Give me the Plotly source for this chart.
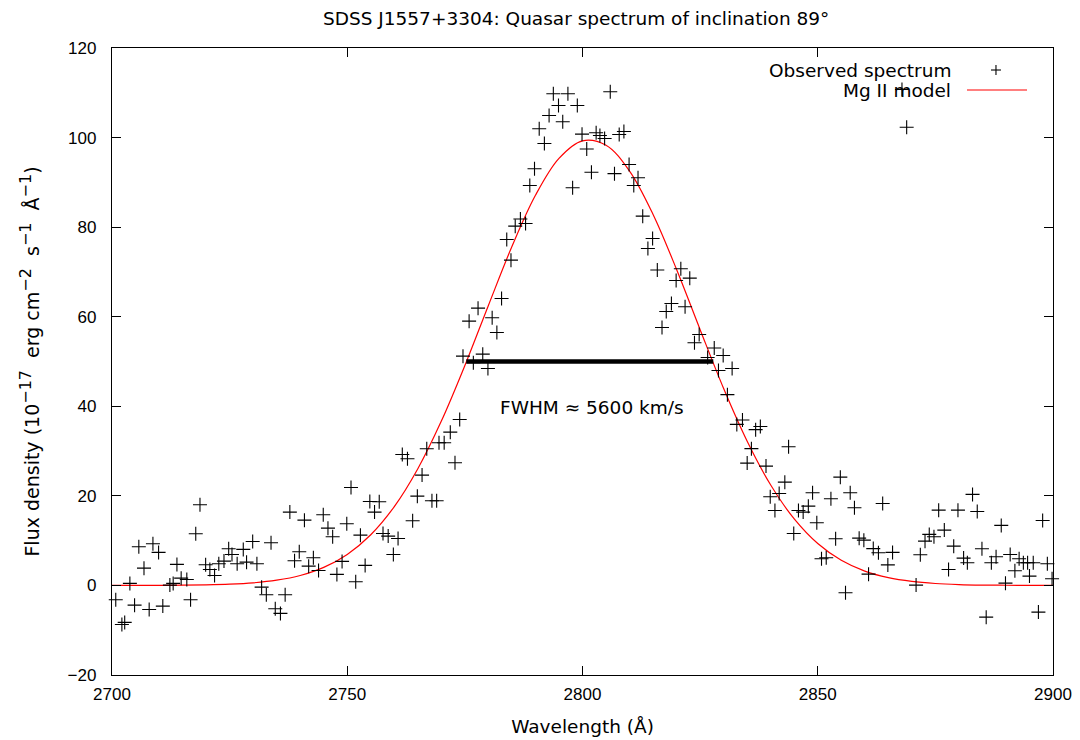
import plotly.graph_objects as go

# observed spectrum (wavelength in Angstrom, flux in 1e-17 erg/cm2/s/A)
wavelength = [
    2700.8, 2702.1, 2702.7, 2703.8, 2704.8, 2705.7, 2706.8, 2707.9, 2708.7, 2709.9,
    2710.8, 2712.3, 2713.0, 2713.8, 2714.7, 2715.9, 2716.7, 2717.8, 2718.7, 2719.9,
    2720.8, 2721.8, 2722.7, 2723.8, 2724.8, 2725.5, 2726.6, 2727.9, 2728.6, 2729.9,
    2730.8, 2731.8, 2732.8, 2733.8, 2734.7, 2735.8, 2736.8, 2737.8, 2738.8, 2739.8,
    2740.9, 2741.8, 2742.8, 2743.9, 2744.9, 2745.9, 2746.9, 2747.8, 2748.9, 2749.9,
    2750.8, 2751.8, 2752.8, 2753.8, 2754.8, 2755.8, 2756.8, 2757.6, 2758.7, 2759.8,
    2760.8, 2761.7, 2762.8, 2763.9, 2764.9, 2765.9, 2766.9, 2768.0, 2769.0, 2769.5,
    2770.6, 2771.9, 2772.9, 2773.9, 2774.6, 2775.9, 2776.8, 2777.8, 2778.8, 2779.9,
    2780.8, 2781.8, 2782.8, 2783.9, 2784.8, 2785.7, 2786.8, 2787.9, 2788.8, 2789.8,
    2790.8, 2791.9, 2792.9, 2793.8, 2794.9, 2795.8, 2796.9, 2797.9, 2798.9, 2799.9,
    2800.9, 2801.9, 2802.9, 2803.7, 2804.7, 2805.9, 2806.8, 2807.8, 2808.8, 2809.9,
    2810.9, 2811.8, 2812.8, 2813.9, 2814.9, 2815.9, 2816.9, 2817.8, 2818.9, 2819.9,
    2820.9, 2821.8, 2822.8, 2823.8, 2824.8, 2826.6, 2828.0, 2828.9, 2829.9, 2830.8,
    2831.8, 2832.8, 2834.0, 2835.0, 2835.9, 2836.8, 2837.8, 2839.0, 2839.9, 2840.9,
    2841.8, 2843.0, 2843.8, 2844.9, 2845.9, 2846.9, 2848.0, 2848.9, 2849.8, 2850.8,
    2851.8, 2852.8, 2853.8, 2854.8, 2855.9, 2856.9, 2857.8, 2858.8, 2859.8, 2860.8,
    2861.8, 2862.9, 2863.8, 2864.9, 2865.9, 2867.9, 2868.9, 2870.9, 2871.8, 2872.8,
    2873.7, 2874.7, 2875.7, 2876.9, 2877.8, 2878.9, 2879.8, 2881.0, 2881.8, 2882.9,
    2883.9, 2884.9, 2885.8, 2886.9, 2887.9, 2889.0, 2889.9, 2890.9, 2891.9, 2892.8,
    2893.7, 2894.6, 2895.0, 2895.8, 2896.9, 2897.8, 2898.8, 2899.8,
]
flux = [
    -3.19, -8.71, -8.26, 0.45, -4.40, 8.64, 3.86, -5.36, 9.31, 7.37,
    -4.62, 0.07, 0.45, 4.69, 1.63, 1.34, -3.19, 11.54, 18.02, 4.62,
    3.57, 2.23, 4.84, 5.43, 8.19, 6.92, 4.84, 8.04, 5.20, 9.82,
    4.84, -0.38, -2.08, 9.53, -5.20, -6.25, -2.08, 16.37, 5.51, 7.52,
    14.58, 4.31, 6.18, 3.35, 15.78, 12.79, 10.87, 2.46, 5.36, 13.78,
    21.88, 0.83, 11.23, 4.47, 18.75, 16.37, 18.69, 11.61, 11.01, 6.92,
    10.49, 29.25, 28.29, 14.45, 19.94, 24.63, 30.52, 18.91, 18.91, 31.86,
    31.86, 34.23, 27.39, 37.06, 51.19, 59.01, 49.72, 61.91, 51.64, 48.45,
    59.77, 56.49, 64.08, 77.25, 72.63, 80.22, 81.83, 80.82, 89.31, 93.03,
    101.96, 98.68, 104.93, 109.78, 107.17, 103.53, 109.78, 88.81, 107.17, 100.76,
    97.45, 92.27, 101.07, 100.47, 99.80, 110.22, 91.94, 100.69, 101.36, 93.99,
    89.31, 91.02, 82.45, 75.24, 77.47, 70.44, 57.60, 61.17, 62.96, 68.10,
    70.71, 62.22, 68.61, 54.19, 56.04, 50.90, 53.03, 48.00, 51.35, 42.60,
    48.45, 35.95, 36.95, 27.31, 30.54, 34.78, 35.50, 26.64, 19.80, 16.74,
    20.54, 23.06, 30.97, 11.61, 16.74, 16.37, 17.70, 20.70, 14.00, 5.96,
    6.18, 19.36, 10.43, 24.18, -1.63, 20.70, 17.35, 10.56, 10.11, 2.52,
    8.22, 7.30, 18.31, 4.58, 7.37, 110.74, 102.32, 0.07, 6.85, 9.89,
    11.39, 10.87, 16.81, 12.35, 3.57, 8.77, 16.81, 6.10, 5.07, 20.32,
    16.52, 8.19, -7.08, 5.07, 6.41, 13.40, 0.51, 6.92, 3.28, 5.96,
    5.07, 5.07, 2.08, 5.07, -5.96, 14.51, 4.84, 1.50,
]

# Mg II gaussian model, every 5 A
model_wl = [
    2700, 2705, 2710, 2715, 2720, 2725, 2730, 2735, 2740, 2745,
    2750, 2755, 2760, 2765, 2770, 2775, 2780, 2785, 2790, 2795,
    2800, 2805, 2810, 2815, 2820, 2825, 2830, 2835, 2840, 2845,
    2850, 2855, 2860, 2865, 2870, 2875, 2880, 2885, 2890, 2895, 2900,
]
model_flux = [
    0.0, 0.01, 0.02, 0.05, 0.13, 0.28, 0.58, 1.17, 2.22, 4.02,
    6.92, 11.32, 17.60, 26.06, 36.69, 49.11, 62.52, 75.68, 87.11, 95.36,
    99.27, 98.29, 92.53, 82.84, 70.54, 57.11, 43.97, 32.20, 22.43, 14.85,
    9.35, 5.60, 3.19, 1.73, 0.89, 0.43, 0.20, 0.09, 0.04, 0.01, 0.0,
]

# full width at half maximum bar
fwhm_wl = [2775.3, 2827.8]
fwhm_flux = [50, 50]

FONT = "DejaVu Sans, Verdana, sans-serif"
TICKFONT = "Liberation Sans, Arial, Helvetica, sans-serif"

fig = go.Figure()

fig.add_trace(go.Scatter(
    x=model_wl, y=model_flux, mode="lines", line_shape="spline",
    line=dict(color="red", width=1.2), name="Mg II model",
))
fig.add_trace(go.Scatter(
    x=fwhm_wl, y=fwhm_flux, mode="lines",
    line=dict(color="black", width=4.5),
))
fig.add_trace(go.Scatter(
    x=wavelength, y=flux, mode="markers", name="Observed spectrum",
    marker=dict(symbol="cross-thin", size=10, line=dict(width=1.1, color="black")),
    cliponaxis=False,
))

# FWHM label
fig.add_annotation(x=2802.1, y=39.7, text="FWHM ≈ 5600 km/s", showarrow=False,
                   font=dict(size=18.5, color="black", family=FONT))

# hand-made key, gnuplot style (text first, sample on the right)
fig.add_annotation(xref="paper", yref="paper", x=0.8937, y=0.9649,
                   xanchor="right", yanchor="middle",
                   text="Observed spectrum", showarrow=False,
                   font=dict(size=18.5, color="black", family=FONT))
fig.add_annotation(xref="paper", yref="paper", x=0.8937, y=0.9330,
                   xanchor="right", yanchor="middle",
                   text="Mg II model", showarrow=False,
                   font=dict(size=18.5, color="black", family=FONT))
fig.add_shape(type="line", xref="paper", yref="paper",
              x0=0.9341, x1=0.9447, y0=0.9649, y1=0.9649,
              line=dict(color="black", width=1.1))
fig.add_shape(type="line", xref="paper", yref="paper",
              x0=0.9394, x1=0.9394, y0=0.9569, y1=0.9729,
              line=dict(color="black", width=1.1))
fig.add_shape(type="line", xref="paper", yref="paper",
              x0=0.9086, x1=0.9724, y0=0.9330, y1=0.9330,
              line=dict(color="red", width=1.2))

axis_common = dict(
    showline=True, linecolor="black", linewidth=1.3, mirror="ticks",
    ticks="inside", ticklen=9, tickwidth=1.2, tickcolor="black",
    showgrid=False, zeroline=False, automargin=False,
    tickfont=dict(size=17, color="black", family=TICKFONT),
)

sp = "\u00a0"
fig.update_xaxes(range=[2700, 2900], tickvals=[2700, 2750, 2800, 2850, 2900],
                 title=dict(text="Wavelength (Å)", font=dict(size=18.5, family=FONT, color="black"),
                            standoff=17),
                 ticklabelstandoff=3, **axis_common)
fig.update_yaxes(range=[-20, 120], dtick=20,
                 title=dict(text="Flux density (10<sup><span style='font-size:16px'>−17</span></sup>" + sp * 2 +
                                 "erg cm<sup><span style='font-size:16px'>−2</span></sup>" + sp * 2 +
                                 "s<sup><span style='font-size:16px'>−1</span></sup>" + sp * 2 +
                                 "Å<sup><span style='font-size:16px'>−1</span></sup>)",
                            font=dict(size=19, family=FONT, color="black"), standoff=22),
                 ticklabelstandoff=11, **axis_common)

# page body adds an 8 px margin, so the figure is 8 px smaller than the window
fig.update_layout(
    width=1072, height=732,
    margin=dict(l=104, r=27, t=40, b=65),
    paper_bgcolor="white", plot_bgcolor="white",
    title=dict(text="SDSS J1557+3304: Quasar spectrum of inclination 89°",
               x=0.53, xanchor="center", y=0.985, yanchor="middle",
               font=dict(size=18.5, color="black", family=FONT)),
    showlegend=False,
)

fig.write_html("out.html")
